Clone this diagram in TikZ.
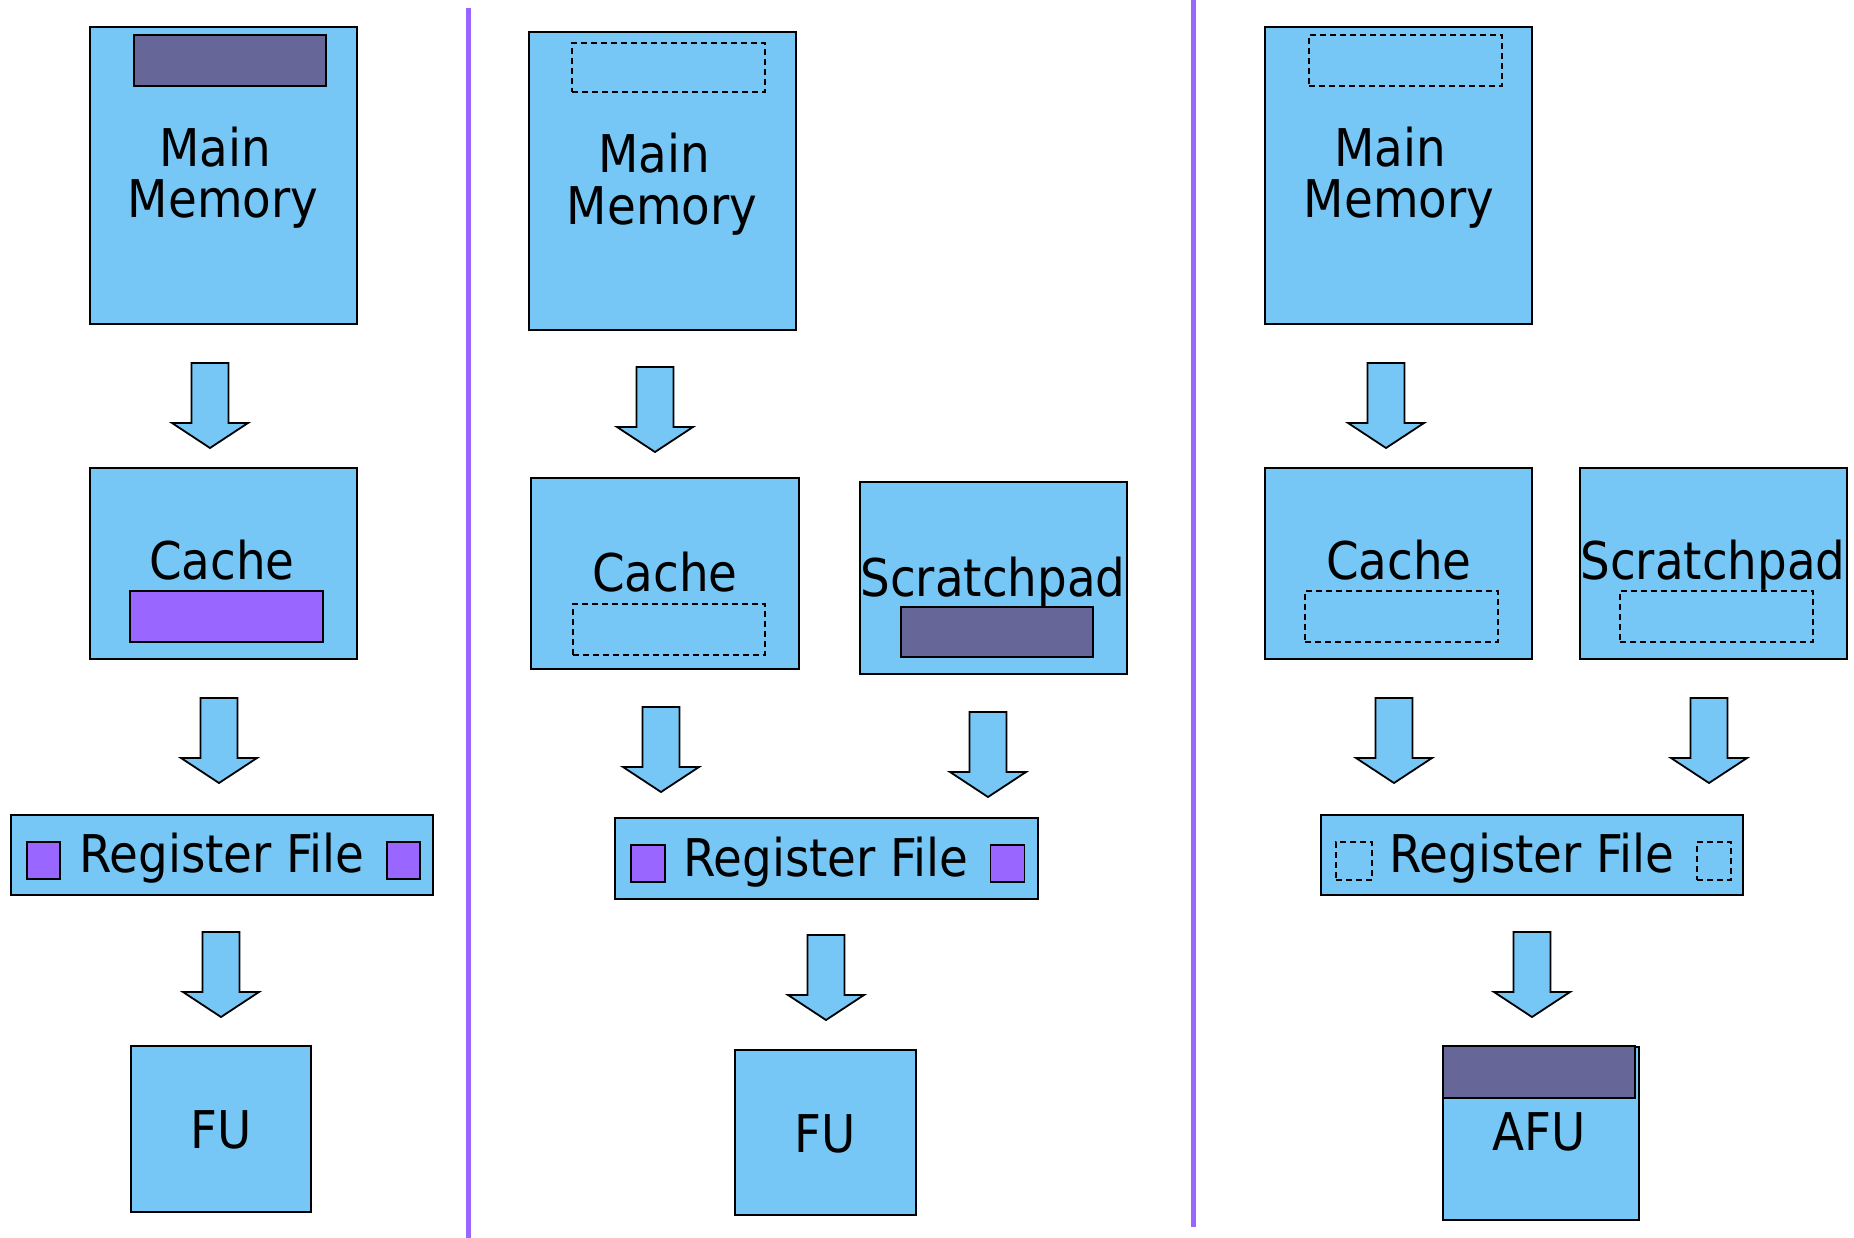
\documentclass[tikz,border=0pt]{standalone}
\usepackage{fontspec}
\setmainfont{DejaVu Sans Condensed}
\definecolor{lblue}{RGB}{118,199,245}
\definecolor{dbar}{RGB}{102,102,153}
\definecolor{vio}{RGB}{153,102,255}
\begin{document}
\begin{tikzpicture}[x=1pt,y=-1pt,
  box/.style={draw=black, line width=1.8pt, fill=lblue, inner sep=0pt, outer sep=0pt},
  darkbar/.style={draw=black, line width=1.8pt, fill=dbar, inner sep=0pt, outer sep=0pt},
  violetbar/.style={draw=black, line width=1.8pt, fill=vio, inner sep=0pt, outer sep=0pt},
  dashbox/.style={draw=black, line width=1.3pt, dash pattern=on 6pt off 4pt, inner sep=0pt, outer sep=0pt},
  lbl/.style={anchor=base, inner sep=0pt, font=\fontsize{52}{52}\selectfont},
  divider/.style={draw=vio, line width=5pt},
  blockarrow/.pic={\draw[line width=1.8pt, fill=lblue, line join=miter]
     (-18.5,0) -- (18.5,0) -- (18.5,60) -- (38,60) -- (0,85) -- (-38,60) -- (-18.5,60) -- cycle;}
]
\useasboundingbox (0,0) rectangle (1854,1238);

% dividers
\coordinate (d1t) at (468,8);
\coordinate (d1b) at (468,1238);
\coordinate (d2t) at (1193,0);
\coordinate (d2b) at (1193,1227);
\draw[divider] (d1t) -- (d1b);
\draw[divider] (d2t) -- (d2b);

% ---------- column 1 ----------
\node[box, minimum width=267pt, minimum height=297pt] (mm1) at (223.5,175.5) {};
\node[darkbar, minimum width=192pt, minimum height=51pt] (mm1bar) at (230,60.5) {};
\node[lbl] (mm1a) at (215,167) {Main};
\node[lbl] (mm1b) at (223,218) {Memory};
\pic at (210,363) {blockarrow};
\node[box, minimum width=267pt, minimum height=191pt] (ca1) at (223.5,563.5) {};
\node[lbl] (ca1t) at (222,579) {Cache};
\node[violetbar, minimum width=193pt, minimum height=51pt] (ca1bar) at (226.5,616.5) {};
\pic at (219,698) {blockarrow};
\node[box, minimum width=422pt, minimum height=80pt] (rf1) at (222,855) {};
\node[violetbar, minimum width=33pt, minimum height=37pt] (rf1l) at (43.5,860.5) {};
\node[violetbar, minimum width=33pt, minimum height=37pt] (rf1r) at (403.5,860.5) {};
\node[lbl] (rf1t) at (222,872) {Register File};
\pic at (221,932) {blockarrow};
\node[box, minimum width=180pt, minimum height=166pt] (fu1) at (221,1129) {};
\node[lbl] (fu1t) at (221,1148) {FU};

% ---------- column 2 ----------
\node[box, minimum width=267pt, minimum height=298pt] (mm2) at (662.5,181) {};
\node[dashbox, minimum width=193pt, minimum height=49pt] (mm2bar) at (668.5,67.5) {};
\node[lbl] (mm2a) at (654,173) {Main};
\node[lbl] (mm2b) at (662,225) {Memory};
\pic at (655,367) {blockarrow};
\node[box, minimum width=268pt, minimum height=191pt] (ca2) at (665,573.5) {};
\node[lbl] (ca2t) at (665,591) {Cache};
\node[dashbox, minimum width=192pt, minimum height=51pt] (ca2bar) at (669,629.5) {};
\node[box, minimum width=267pt, minimum height=192pt] (sp2) at (993.5,578) {};
\node[lbl] (sp2t) at (993,596) {Scratchpad};
\node[darkbar, minimum width=192pt, minimum height=50pt] (sp2bar) at (997,632) {};
\pic at (661,707) {blockarrow};
\pic at (988,712) {blockarrow};
\node[box, minimum width=423pt, minimum height=81pt] (rf2) at (826.5,858.5) {};
\node[violetbar, minimum width=34pt, minimum height=37pt] (rf2l) at (648,863.5) {};
\node[violetbar, minimum width=34pt, minimum height=37pt] (rf2r) at (1007.5,863.5) {};
\node[lbl] (rf2t) at (826,876) {Register File};
\pic at (826,935) {blockarrow};
\node[box, minimum width=181pt, minimum height=165pt] (fu2) at (825.5,1132.5) {};
\node[lbl] (fu2t) at (825,1152) {FU};

% ---------- column 3 ----------
\node[box, minimum width=267pt, minimum height=297pt] (mm3) at (1398.5,175.5) {};
\node[dashbox, minimum width=193pt, minimum height=51pt] (mm3bar) at (1405.5,60.5) {};
\node[lbl] (mm3a) at (1390,167) {Main};
\node[lbl] (mm3b) at (1399,218) {Memory};
\pic at (1386,363) {blockarrow};
\node[box, minimum width=267pt, minimum height=191pt] (ca3) at (1398.5,563.5) {};
\node[lbl] (ca3t) at (1399,579) {Cache};
\node[dashbox, minimum width=193pt, minimum height=51pt] (ca3bar) at (1401.5,616.5) {};
\node[box, minimum width=267pt, minimum height=191pt] (sp3) at (1713.5,563.5) {};
\node[lbl] (sp3t) at (1713,579) {Scratchpad};
\node[dashbox, minimum width=193pt, minimum height=51pt] (sp3bar) at (1716.5,616.5) {};
\pic at (1394,698) {blockarrow};
\pic at (1709,698) {blockarrow};
\node[box, minimum width=422pt, minimum height=80pt] (rf3) at (1532,855) {};
\node[dashbox, minimum width=36pt, minimum height=38pt] (rf3l) at (1354,861) {};
\node[dashbox, minimum width=34pt, minimum height=38pt] (rf3r) at (1714,861) {};
\node[lbl] (rf3t) at (1532,872) {Register File};
\pic at (1532,932) {blockarrow};
\node[box, minimum width=196pt, minimum height=173pt] (afu) at (1541,1133.5) {};
\node[darkbar, minimum width=192pt, minimum height=52pt] (afubar) at (1539,1072) {};
\node[lbl] (afut) at (1539,1150) {AFU};
\end{tikzpicture}
\end{document}
